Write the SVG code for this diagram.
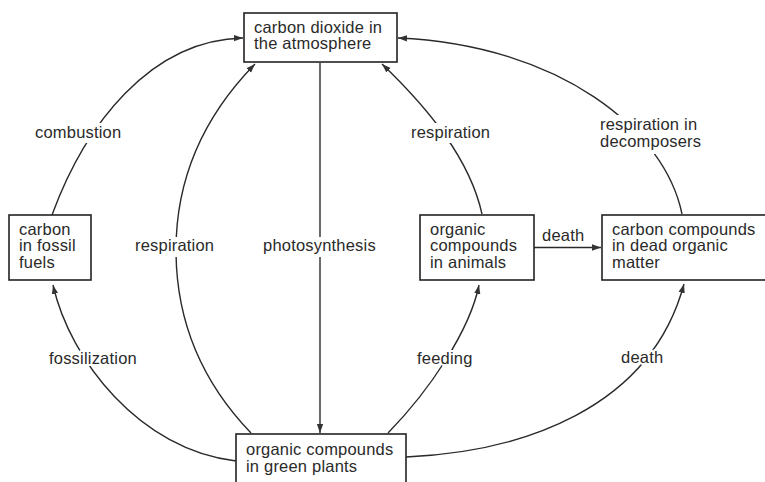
<svg xmlns="http://www.w3.org/2000/svg" width="765" height="482" viewBox="0 0 765 482">
<defs>
<style>
text{font-family:"Liberation Sans",Arial,sans-serif;font-size:16.5px;fill:#2a2a2a;letter-spacing:0.2px}
.box{fill:#fff;stroke:#222;stroke-width:1.6}
.c{fill:none;stroke:#2a2a2a;stroke-width:1.4}
.bg{fill:#fff;stroke:none}
.halo{stroke:#fff;stroke-width:4;paint-order:stroke;stroke-linejoin:round}
</style>
<marker id="ah" viewBox="0 0 10 10" refX="10" refY="5" markerWidth="9" markerHeight="9" markerUnits="userSpaceOnUse" orient="auto">
<path d="M0,1.5 L10,5 L0,8.5 Z" fill="#333"/>
</marker>
</defs>
<rect width="765" height="482" fill="#fff"/>
<g id="connectors">
<path class="c" d="M320,63 L320,433" marker-end="url(#ah)"/>
<path class="c" d="M251,433 C200,380 176,320 176,250 C176,170 210,110 255,64" marker-end="url(#ah)"/>
<path class="c" d="M52,215 C85,125 150,40 243,38" marker-end="url(#ah)"/>
<path class="c" d="M482,214 C470,160 430,110 382,64" marker-end="url(#ah)"/>
<path class="c" d="M682,214 C665,130 560,45 398,38" marker-end="url(#ah)"/>
<path class="c" d="M534,247.5 L601,247.5" marker-end="url(#ah)"/>
<path class="c" d="M388,433 C430,390 470,330 479,285" marker-end="url(#ah)"/>
<path class="c" d="M236,461 C140,450 70,360 53,285" marker-end="url(#ah)"/>
<path class="c" d="M406,457 C520,452 650,410 684,284" marker-end="url(#ah)"/>
<rect class="bg" x="30" y="123" width="99" height="20"/>
<rect class="bg" x="132" y="237" width="88" height="20"/>
<rect class="bg" x="258" y="237" width="124" height="20"/>
<rect class="bg" x="406" y="123" width="90" height="20"/>
<rect class="bg" x="596" y="115" width="108" height="39"/>
</g>
<g id="atmosphere">
<rect class="box" x="244" y="13" width="153" height="49"/>
<text x="254" y="32.5">carbon dioxide in</text>
<text x="254" y="49">the atmosphere</text>
</g>
<g id="fossil">
<rect class="box" x="9" y="215" width="82" height="65"/>
<text x="19" y="234.5">carbon</text>
<text x="19" y="251">in fossil</text>
<text x="19" y="267.5">fuels</text>
</g>
<g id="animals">
<rect class="box" x="420" y="215" width="114" height="65"/>
<text x="430" y="234.5">organic</text>
<text x="430" y="251">compounds</text>
<text x="430" y="267.5">in animals</text>
</g>
<g id="dead">
<rect class="box" x="602" y="215" width="170" height="65"/>
<text x="612" y="234.5">carbon compounds</text>
<text x="612" y="251">in dead organic</text>
<text x="612" y="267.5">matter</text>
</g>
<g id="plants">
<rect class="box" x="236" y="434" width="170" height="60"/>
<text x="246" y="455">organic compounds</text>
<text x="246" y="471.5">in green plants</text>
</g>
<g id="labels">
<text x="35" y="137.5">combustion</text>
<text x="135" y="251">respiration</text>
<text x="263" y="251">photosynthesis</text>
<text x="411" y="137.5">respiration</text>
<text x="600" y="130">respiration in</text>
<text x="600" y="146.5">decomposers</text>
<text x="542" y="241">death</text>
<text class="halo" x="49" y="364">fossilization</text>
<text class="halo" x="417" y="364">feeding</text>
<text class="halo" x="621" y="362.5">death</text>
</g>
</svg>
